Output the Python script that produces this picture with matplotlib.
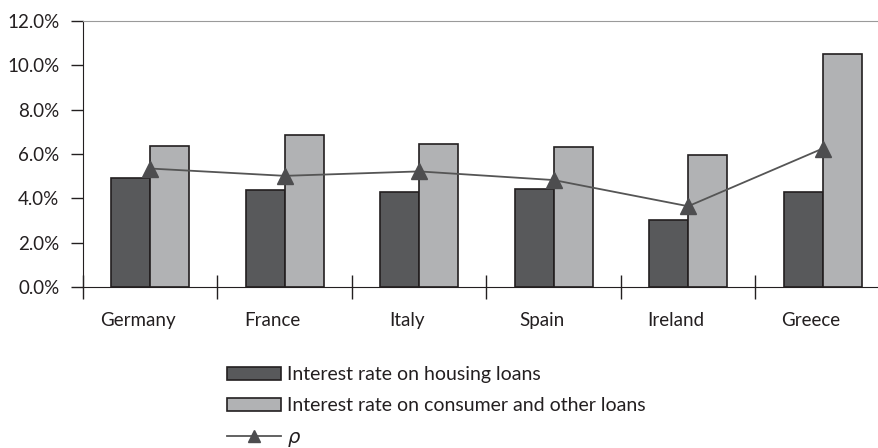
import numpy as np
from matplotlib import pyplot as plt
from matplotlib.ticker import FuncFormatter
from matplotlib.transforms import ScaledTranslation

countries = ["Germany", "France", "Italy", "Spain", "Ireland", "Greece"]
housing = [4.93, 4.38, 4.30, 4.43, 3.02, 4.30]
consumer = [6.36, 6.86, 6.44, 6.30, 5.94, 10.51]
rho = [5.35, 5.02, 5.22, 4.83, 3.65, 6.25]

plt.rcParams['font.family'] = ['Lato', 'DejaVu Sans']

fig = plt.figure(figsize=(8.79, 4.48), dpi=100)
ax = fig.add_axes([0.0944, 0.359, 0.918, 0.594])

x = np.arange(len(countries))
w = 0.29
ax.bar(x - w/2, housing, w, color="#58595b", edgecolor="#231f20", linewidth=1.2,
       label="Interest rate on housing loans")
ax.bar(x + w/2, consumer, w, color="#b1b2b4", edgecolor="#231f20", linewidth=1.2,
       label="Interest rate on consumer and other loans")
ax.plot(x, rho, color="#555555", linewidth=1.3, marker="^", markersize=11,
        markerfacecolor="#4d4d4f", markeredgecolor="#4d4d4f", label=r"$\rho$")

ax.set_xlim(-0.5, 5.5)
ax.set_ylim(0, 12)
ax.set_yticks(np.arange(0, 12.1, 2))
ax.yaxis.set_major_formatter(FuncFormatter(lambda v, p: f"{v:.1f}%"))
ax.tick_params(axis="y", direction="out", length=9, width=1, color="#231f20",
               labelsize=13.5, pad=8, labelcolor="#231f20")

# category boundary ticks crossing the axis
ax.set_xticks(np.arange(-0.5, 6, 1))
ax.set_xticklabels([])
ax.tick_params(axis="x", which="major", direction="inout", length=17, width=1,
               color="#231f20")
ax.set_xticks(x, minor=True)
ax.set_xticklabels(countries, minor=True)
ax.tick_params(axis="x", which="minor", length=0, labelsize=13.5, pad=18,
               labelcolor="#231f20")
shift = ScaledTranslation(-12 / 100, 0, fig.dpi_scale_trans)
for lbl in ax.get_xticklabels(minor=True):
    lbl.set_transform(lbl.get_transform() + shift)

ax.spines["right"].set_visible(False)
ax.spines["top"].set_color("#9a9a9a")
ax.spines["left"].set_color("#231f20")
ax.spines["bottom"].set_color("#231f20")

h, l = ax.get_legend_handles_labels()
order = [1, 2, 0]
leg = fig.legend([h[i] for i in order], [l[i] for i in order], loc="upper left",
                 bbox_to_anchor=(0.247, 0.205), frameon=False, fontsize=14,
                 handlelength=2.8, handleheight=0.65, handletextpad=0.3,
                 labelspacing=0.75, borderpad=0, markerscale=0.8)
for t in leg.get_texts():
    t.set_color("#231f20")

fig.savefig("out.png", dpi=100)
